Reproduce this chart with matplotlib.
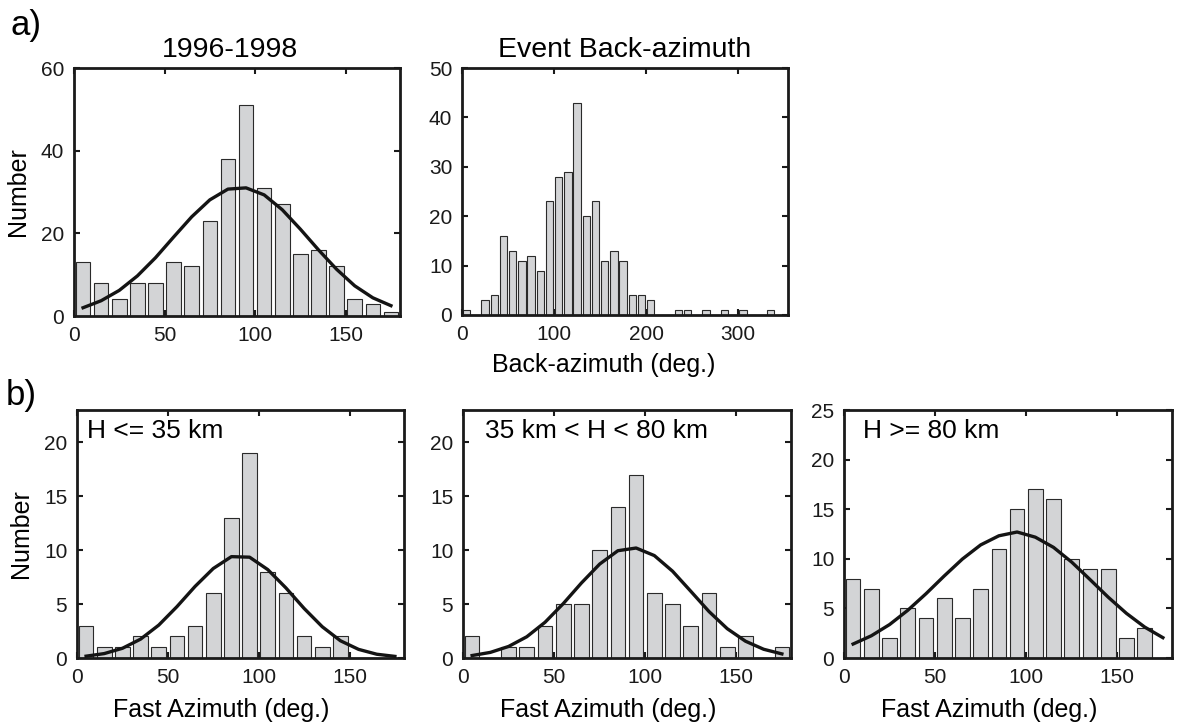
import matplotlib
matplotlib.use('Agg')
import matplotlib.pyplot as plt

plt.rcParams['font.family'] = ['Liberation Sans', 'DejaVu Sans']

# 10-degree bins of fast azimuth
fast_bins = [5, 15, 25, 35, 45, 55, 65, 75, 85, 95, 105, 115, 125, 135, 145, 155, 165, 175]

all_counts = [13, 8, 4, 8, 8, 13, 12, 23, 38, 51, 31, 27, 15, 16, 12, 4, 3, 1]
all_fit = [2.0, 3.7, 6.2, 9.7, 14.1, 19.1, 24.0, 28.1, 30.7, 31.0, 29.3, 25.7, 21.0, 16.0, 11.3, 7.3, 4.4, 2.5]

shallow_counts = [3, 1, 1, 2, 1, 2, 3, 6, 13, 19, 8, 6, 2, 1, 2, 0, 0, 0]
shallow_fit = [0.17, 0.41, 0.9, 1.75, 3.05, 4.76, 6.64, 8.3, 9.4, 9.35, 8.2, 6.5, 4.6, 2.9, 1.6, 0.8, 0.35, 0.15]

mid_counts = [2, 0, 1, 1, 3, 5, 5, 10, 14, 17, 6, 5, 3, 6, 1, 2, 0, 1]
mid_fit = [0.23, 0.52, 1.07, 1.97, 3.31, 5.04, 6.96, 8.71, 9.95, 10.2, 9.5, 8.05, 6.19, 4.31, 2.72, 1.56, 0.81, 0.38]

deep_counts = [8, 7, 2, 5, 4, 6, 4, 7, 11, 15, 17, 16, 10, 9, 9, 2, 3, 0]
deep_fit = [1.41, 2.24, 3.37, 4.81, 6.48, 8.27, 9.98, 11.4, 12.32, 12.7, 12.18, 11.15, 9.66, 7.91, 6.13, 4.5, 3.12, 2.05]

# event back-azimuths, 10-degree bins
baz_bins = [5, 15, 25, 35, 45, 55, 65, 75, 85, 95, 105, 115, 125, 135, 145, 155, 165,
            175, 185, 195, 205, 215, 225, 235, 245, 255, 265, 275, 285, 295, 305, 315, 325, 335]
baz_counts = [1, 0, 3, 4, 16, 13, 11, 12, 9, 23, 28, 29, 43, 20, 23, 11, 13,
              11, 4, 4, 3, 0, 0, 1, 1, 0, 1, 0, 1, 0, 1, 0, 0, 1]

W, H = 1178, 725
fig = plt.figure(figsize=(W / 100, H / 100), dpi=100)

BAR = '#d3d4d6'
TICK = 15
LAB = 18
TITLE = 20.5


def make_axes(left, top, right, bottom):
    ax = fig.add_axes([left / W, 1 - bottom / H, (right - left) / W, (bottom - top) / H])
    for s in ax.spines.values():
        s.set_linewidth(2.0)
        s.set_color('#1a1a1a')
    ax.tick_params(direction='in', length=4, width=1.5, top=True, right=True,
                   labelsize=TICK, pad=7, colors='#1a1a1a')
    return ax


def histo(ax, bins, counts, width):
    ax.bar(bins, counts, width=width, color=BAR, edgecolor='#2a2a2a', linewidth=0.8, zorder=2)


# a) all measurements
ax = make_axes(74, 68, 400, 316)
histo(ax, fast_bins, all_counts, 8)
ax.plot(fast_bins, all_fit, color='#141414', lw=2.4, zorder=3)
ax.set_xlim(0, 180)
ax.set_ylim(0, 60)
ax.set_xticks([0, 50, 100, 150])
ax.set_yticks([0, 20, 40, 60])
ax.set_title('1996-1998', fontsize=TITLE, pad=8, x=0.48)
ax.set_ylabel('Number', fontsize=LAB, labelpad=8)

ax = make_axes(462, 68, 788, 315)
histo(ax, baz_bins, baz_counts, 8)
ax.set_xlim(0, 354)
ax.set_ylim(0, 50)
ax.set_xticks([0, 100, 200, 300])
ax.set_yticks([0, 10, 20, 30, 40, 50])
ax.set_title('Event Back-azimuth', fontsize=TITLE, pad=8)
ax.set_xlabel('Back-azimuth (deg.)', fontsize=LAB, labelpad=7)
ax.xaxis.label.set_x(0.436)

# b) split by depth
panels = [
    (77, 404, shallow_counts, shallow_fit, 'H <= 35 km', 0.03, 23, [0, 5, 10, 15, 20]),
    (463, 791, mid_counts, mid_fit, '35 km < H < 80 km', 0.066, 23, [0, 5, 10, 15, 20]),
    (844, 1172, deep_counts, deep_fit, 'H >= 80 km', 0.058, 25, [0, 5, 10, 15, 20, 25]),
]
for i, (l, r, counts, fit, label, tx, ytop, yt) in enumerate(panels):
    ax = make_axes(l, 410, r, 658)
    histo(ax, fast_bins, counts, 8)
    ax.plot(fast_bins, fit, color='#141414', lw=2.4, zorder=3)
    ax.set_xlim(0, 180)
    ax.set_ylim(0, ytop)
    ax.set_xticks([0, 50, 100, 150])
    ax.set_yticks(yt)
    ax.set_xlabel('Fast Azimuth (deg.)', fontsize=LAB, labelpad=8)
    ax.xaxis.label.set_x(0.442)
    ax.text(tx, 0.915, label, transform=ax.transAxes, fontsize=19, va='center', ha='left')
    if i == 0:
        ax.set_ylabel('Number', fontsize=LAB, labelpad=8)

fig.text(11 / W, 1 - 25 / H, 'a)', fontsize=25, va='center', ha='left')
fig.text(6 / W, 1 - 396 / H, 'b)', fontsize=25, va='center', ha='left')

fig.savefig('out.png', dpi=100)
